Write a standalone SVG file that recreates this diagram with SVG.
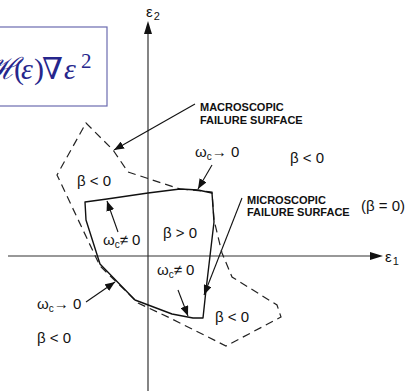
<svg xmlns="http://www.w3.org/2000/svg" width="405" height="391" viewBox="0 0 405 391">
<style>
.lbl{font-family:"Liberation Sans",Arial,sans-serif;font-size:15px;fill:#111}
.cap{font-family:"Liberation Sans",Arial,sans-serif;font-size:11px;font-weight:bold;fill:#111}
.ax{stroke:#333;stroke-width:1.2;fill:none}
.solid{stroke:#111;stroke-width:1.4;fill:none;stroke-linejoin:round}
.dash{stroke:#222;stroke-width:1.2;fill:none;stroke-dasharray:8 5}
.ptr{stroke:#111;stroke-width:1.1;fill:none;marker-end:url(#ah)}
.math{font-family:"Liberation Serif","DejaVu Serif",serif;fill:#26268c}
</style>
<defs>
<marker id="ah" viewBox="0 0 10 8" refX="10" refY="4" markerWidth="10" markerHeight="8" markerUnits="userSpaceOnUse" orient="auto">
<path d="M0,0 L10,4 L0,8 z" fill="#111"/>
</marker>
</defs>
<g id="formula">
<rect x="-5" y="27" width="112" height="79" fill="#fff" stroke="#6b6bb0" stroke-width="1.2"/>
<text class="math" font-size="30" y="79"><tspan x="-14" font-family="DejaVu Serif" font-style="italic">ℋ</tspan><tspan x="14">(</tspan><tspan x="21" font-style="italic">ε</tspan><tspan x="34">)</tspan><tspan x="42">∇</tspan><tspan x="64" font-style="italic">ε</tspan><tspan x="81" y="68" font-size="21">2</tspan></text>
</g>
<g id="connectors">
<line class="ax" x1="148" y1="391" x2="148" y2="32"/>
<path d="M148,21 L152,34 L144,34 z" fill="#111"/>
<line class="ax" x1="8" y1="256" x2="372" y2="256"/>
<path d="M383,256 L370,252 L370,260 z" fill="#111"/>
<line class="ptr" x1="195" y1="104" x2="114" y2="150"/>
<line class="ptr" x1="212" y1="165" x2="198" y2="189"/>
<line class="ptr" x1="118" y1="232" x2="107" y2="201"/>
<line class="ptr" x1="242" y1="198" x2="204" y2="295"/>
<line class="ptr" x1="178" y1="290" x2="188" y2="316"/>
<line class="ptr" x1="86" y1="302" x2="115" y2="282"/>
</g>
<g id="macroscopic-surface">
<path class="dash" d="M180,189 L212,192 L214,220 L222,253 L232,277 L277,305 L281,317 L226,346 L170,318 L138,303 L100,266 L57,175 L86,123 L113,150 L128,172 Z"/>
</g>
<g id="microscopic-surface">
<path class="solid" d="M85,202 L107,199 L148,193 L180,189 L198,190 L212,193 L214,222 L206,290 L203,318 L193,318 L172,314 L135,300 L100,264 L86,220 Z"/>
</g>
<g id="labels">
<text class="lbl" x="146" y="17" font-size="13">ε<tspan font-size="11" dx="1" dy="3">2</tspan></text>
<text class="lbl" x="385" y="262" font-size="13">ε<tspan font-size="11" dx="1" dy="3">1</tspan></text>
<text class="cap" x="200" y="111">MACROSCOPIC</text>
<text class="cap" x="200" y="124">FAILURE SURFACE</text>
<text class="cap" x="247" y="204">MICROSCOPIC</text>
<text class="cap" x="247" y="216">FAILURE SURFACE</text>
<text class="lbl" x="361" y="211">(β = 0)</text>
<text class="lbl" x="195" y="157">ω<tspan font-size="10" dy="3">c</tspan><tspan dy="-3">→ 0</tspan></text>
<text class="lbl" x="290" y="163">β &lt; 0</text>
<text class="lbl" x="77" y="186">β &lt; 0</text>
<text class="lbl" x="163" y="238">β &gt; 0</text>
<text class="lbl" x="103" y="245">ω<tspan font-size="10" dy="3">c</tspan><tspan dy="-3">≠ 0</tspan></text>
<text class="lbl" x="157" y="275">ω<tspan font-size="10" dy="3">c</tspan><tspan dy="-3">≠ 0</tspan></text>
<text class="lbl" x="37" y="309">ω<tspan font-size="10" dy="3">c</tspan><tspan dy="-3">→ 0</tspan></text>
<text class="lbl" x="37" y="343">β &lt; 0</text>
<text class="lbl" x="215" y="322">β &lt; 0</text>
</g>
</svg>
